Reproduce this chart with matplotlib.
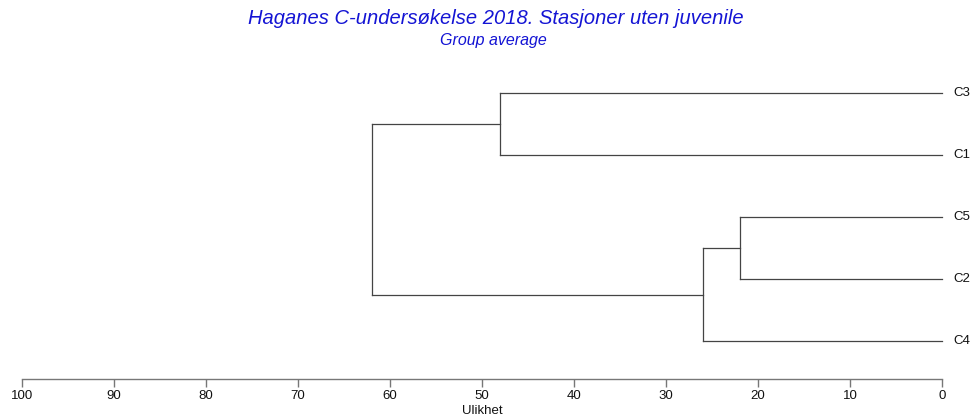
import matplotlib
matplotlib.use("Agg")
import matplotlib.pyplot as plt

# leaf order top to bottom
leaves = ["C3", "C1", "C5", "C2", "C4"]
# merges: (left member, right member, dissimilarity)
merges = [
    ("C5", "C2", 22.0),
    ("C3", "C1", 48.0),
    ("C5+C2", "C4", 26.0),
    ("C3+C1", "C5+C2+C4", 62.0),
]
ticks = [100, 90, 80, 70, 60, 50, 40, 30, 20, 10, 0]

plt.rcParams["font.family"] = ["Liberation Sans", "DejaVu Sans"]
line_col = "#444444"

fig = plt.figure(figsize=(9.73, 4.19), dpi=100)
W, H = 973, 419
ax = fig.add_axes([22 / W, (H - 379) / H, (942 - 22) / W, (379 - 93) / H])

# node positions: (y, height)
pos = {}
n = len(leaves)
for i, name in enumerate(leaves):
    pos[name] = (n - i, 0.0)

for a, b, h in merges:
    ya, ha = pos[a]
    yb, hb = pos[b]
    ax.plot([ha, h], [ya, ya], color=line_col, lw=0.9, clip_on=False)
    ax.plot([hb, h], [yb, yb], color=line_col, lw=0.9, clip_on=False)
    ax.plot([h, h], [ya, yb], color=line_col, lw=0.9, clip_on=False)
    pos[a + "+" + b] = ((ya + yb) / 2, h)

for name in leaves:
    y, _ = pos[name]
    ax.text(-1.2, y, name, ha="left", va="center", fontsize=9.5, color="#111111")

ax.set_xlim(100, 0)
ax.set_ylim(1 - 38 / 62, n)
for s in ["top", "right", "left"]:
    ax.spines[s].set_visible(False)
ax.spines["bottom"].set_color("#777777")
ax.spines["bottom"].set_linewidth(1.0)
ax.set_yticks([])
ax.set_xticks(ticks)
ax.set_xticklabels([str(t) for t in ticks])
ax.tick_params(axis="x", direction="out", length=6, width=1.0, color="#777777",
               labelsize=9.5, pad=2, labelcolor="#111111")
ax.set_xlabel("Ulikhet", fontsize=9.5, labelpad=2, color="#111111")

fig.text(496 / W, 1 - 19 / H, "Haganes C-undersøkelse 2018. Stasjoner uten juvenile",
         ha="center", va="center", fontsize=14.5, style="italic", color="#1414d4")
fig.text(493 / W, 1 - 41 / H, "Group average",
         ha="center", va="center", fontsize=11.5, style="italic", color="#1414d4")

fig.savefig("out.png", dpi=100, facecolor="white")
